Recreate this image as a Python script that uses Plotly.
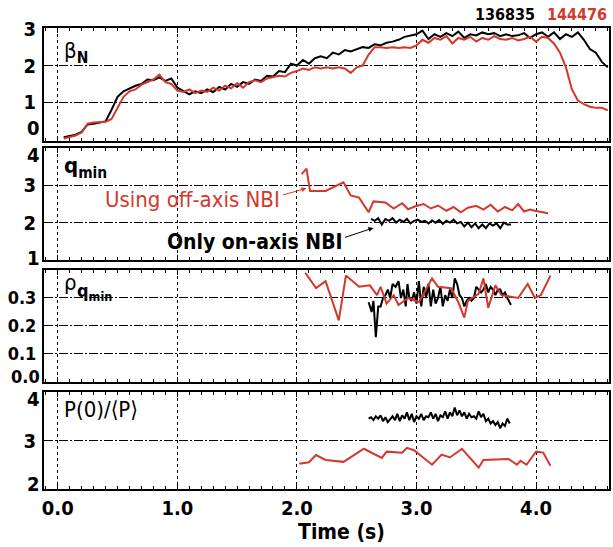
import plotly.graph_objects as go
from plotly.subplots import make_subplots

RED = "#d2382b"
FONT = "DejaVu Sans Condensed, Liberation Sans Narrow, Arial Narrow, sans-serif"

# beta_N, shots 136835 (black) and 144476 (red)
t_beta = [0.05, 0.10, 0.15, 0.20, 0.25, 0.30, 0.35, 0.40, 0.45, 0.50, 0.55, 0.60, 0.65, 0.70, 0.75,
          0.80, 0.85, 0.90, 0.95, 1.00, 1.05, 1.10, 1.15, 1.20, 1.25, 1.30, 1.35, 1.40, 1.45, 1.50,
          1.55, 1.60, 1.65, 1.70, 1.75, 1.80, 1.85, 1.90, 1.95, 2.00, 2.05, 2.10, 2.15, 2.20, 2.25,
          2.30, 2.35, 2.40, 2.45, 2.50, 2.55, 2.60, 2.65, 2.70, 2.75, 2.80, 2.85, 2.90, 2.95, 3.00,
          3.05, 3.10, 3.15, 3.20, 3.25, 3.30, 3.35, 3.40, 3.45, 3.50, 3.55, 3.60, 3.65, 3.70, 3.75,
          3.80, 3.85, 3.90, 3.95, 4.00, 4.05, 4.10, 4.15, 4.20, 4.25, 4.30, 4.35, 4.40, 4.45, 4.50,
          4.55, 4.60]
beta_136835 = [0.05, 0.08, 0.12, 0.20, 0.40, 0.42, 0.45, 0.48, 0.80, 1.15, 1.30, 1.38, 1.45, 1.50, 1.62,
               1.60, 1.68, 1.58, 1.65, 1.40, 1.30, 1.22, 1.30, 1.25, 1.35, 1.28, 1.42, 1.35, 1.50, 1.42,
               1.55, 1.50, 1.62, 1.58, 1.72, 1.70, 1.85, 1.82, 2.05, 2.00, 2.15, 2.05, 2.20, 2.25, 2.20,
               2.35, 2.30, 2.42, 2.38, 2.45, 2.50, 2.48, 2.58, 2.55, 2.62, 2.65, 2.70, 2.78, 2.82, 2.85,
               2.95, 2.72, 2.85, 2.78, 2.88, 2.80, 2.92, 2.75, 2.85, 2.82, 2.90, 2.85, 2.88, 2.80, 2.85,
               2.80, 2.82, 2.88, 2.75, 2.85, 2.90, 2.78, 2.90, 2.72, 2.85, 2.78, 2.90, 2.70, 2.45, 2.35,
               2.10, 1.95]
beta_144476 = [0.02, 0.05, 0.10, 0.18, 0.42, 0.45, 0.45, 0.47, 0.55, 0.85, 1.15, 1.30, 1.35, 1.48, 1.55,
               1.62, 1.75, 1.55, 1.50, 1.32, 1.28, 1.35, 1.25, 1.32, 1.28, 1.40, 1.32, 1.45, 1.38, 1.52,
               1.40, 1.55, 1.60, 1.55, 1.65, 1.68, 1.72, 1.70, 1.80, 1.85, 1.92, 1.88, 1.95, 1.92, 1.95,
               1.92, 1.95, 1.92, 1.80, 1.95, 2.00, 2.30, 2.50, 2.50, 2.48, 2.50, 2.48, 2.50, 2.48, 2.55,
               2.70, 2.62, 2.75, 2.70, 2.80, 2.60, 2.75, 2.70, 2.78, 2.65, 2.75, 2.70, 2.80, 2.72, 2.70,
               2.75, 2.68, 2.72, 2.78, 2.65, 2.78, 2.75, 2.60, 2.35, 1.95, 1.35, 1.05, 0.95, 0.88, 0.85,
               0.85, 0.78]

# q_min
t_q_144476 = [2.04, 2.08, 2.11, 2.24, 2.39, 2.45, 2.52, 2.60, 2.64, 2.74, 2.81, 2.88, 2.93, 2.99, 3.06,
              3.12, 3.18, 3.25, 3.31, 3.37, 3.43, 3.50, 3.56, 3.62, 3.68, 3.74, 3.80, 3.85, 3.90, 3.95,
              3.99, 4.05, 4.10]
q_144476 = [3.30, 3.45, 2.85, 2.85, 3.08, 2.73, 2.67, 2.28, 2.57, 2.54, 2.38, 2.52, 2.36, 2.44, 2.50,
            2.38, 2.46, 2.32, 2.42, 2.28, 2.40, 2.45, 2.35, 2.48, 2.30, 2.42, 2.33, 2.50, 2.30, 2.35,
            2.32, 2.28, 2.25]
t_q_136835 = [2.62, 2.65, 2.68, 2.71, 2.74, 2.77, 2.80, 2.83, 2.86, 2.89, 2.92, 2.95, 2.98, 3.01, 3.04,
              3.07, 3.10, 3.13, 3.16, 3.19, 3.22, 3.25, 3.28, 3.31, 3.34, 3.37, 3.40, 3.43, 3.46, 3.49,
              3.52, 3.55, 3.58, 3.61, 3.64, 3.67, 3.70, 3.73, 3.76, 3.79]
q_136835 = [2.10, 2.05, 2.12, 1.95, 2.10, 2.05, 2.12, 2.00, 2.08, 2.02, 2.10, 1.98, 2.05, 2.08, 2.02,
            2.05, 1.98, 2.06, 2.00, 2.07, 1.97, 2.05, 2.00, 2.08, 1.98, 2.02, 1.90, 2.00, 1.88, 1.98,
            1.85, 1.95, 1.85, 1.98, 1.92, 1.98, 1.85, 2.00, 1.95, 1.95]

# rho at q_min
t_rho_144476 = [2.07, 2.16, 2.24, 2.35, 2.41, 2.52, 2.61, 2.67, 2.70, 2.75, 2.81, 2.85, 2.93, 3.02, 3.13,
                3.18, 3.29, 3.35, 3.40, 3.43, 3.52, 3.56, 3.60, 3.66, 3.71, 3.79, 3.85, 3.93, 3.99, 4.04,
                4.12]
rho_144476 = [0.39, 0.335, 0.36, 0.22, 0.38, 0.34, 0.345, 0.31, 0.34, 0.28, 0.31, 0.275, 0.30, 0.285, 0.37,
              0.34, 0.335, 0.285, 0.23, 0.29, 0.315, 0.37, 0.265, 0.345, 0.31, 0.305, 0.30, 0.35, 0.30, 0.31,
              0.38]
t_rho_136835 = [2.60, 2.625, 2.64, 2.66, 2.68, 2.70, 2.72, 2.74, 2.76, 2.78, 2.80, 2.825, 2.85, 2.87, 2.89,
                2.91, 2.925, 2.94, 2.96, 2.98, 3.00, 3.02, 3.04, 3.06, 3.08, 3.10, 3.12, 3.14, 3.16, 3.18,
                3.20, 3.22, 3.24, 3.26, 3.28, 3.30, 3.32, 3.34, 3.36, 3.38, 3.40, 3.42, 3.44, 3.46, 3.48,
                3.50, 3.52, 3.54, 3.56, 3.58, 3.60, 3.62, 3.64, 3.66, 3.68, 3.70, 3.72, 3.74, 3.76, 3.79]
rho_136835 = [0.285, 0.25, 0.29, 0.16, 0.27, 0.27, 0.30, 0.31, 0.33, 0.30, 0.35, 0.34, 0.36, 0.30, 0.33,
              0.27, 0.35, 0.30, 0.29, 0.32, 0.28, 0.36, 0.27, 0.34, 0.30, 0.35, 0.27, 0.33, 0.28, 0.30,
              0.34, 0.27, 0.31, 0.29, 0.33, 0.30, 0.37, 0.35, 0.31, 0.30, 0.27, 0.29, 0.30, 0.29, 0.30,
              0.34, 0.33, 0.32, 0.33, 0.35, 0.32, 0.34, 0.33, 0.31, 0.33, 0.33, 0.31, 0.32, 0.30, 0.275]

# pressure peaking P(0)/<P>
t_p_144476 = [2.02, 2.10, 2.16, 2.24, 2.39, 2.56, 2.71, 2.75, 2.88, 2.92, 2.98, 3.06, 3.13, 3.21, 3.28,
              3.38, 3.46, 3.52, 3.56, 3.77, 3.84, 3.87, 3.92, 4.00, 4.06, 4.12]
p_144476 = [2.52, 2.55, 2.70, 2.60, 2.56, 2.83, 2.64, 2.77, 2.75, 2.85, 2.80, 2.64, 2.50, 2.71, 2.65,
            2.83, 2.62, 2.44, 2.60, 2.62, 2.50, 2.58, 2.50, 2.77, 2.75, 2.48]
t_p_136835 = [2.60, 2.62, 2.64, 2.66, 2.68, 2.70, 2.72, 2.74, 2.76, 2.78, 2.80, 2.82, 2.84, 2.86, 2.88,
              2.90, 2.92, 2.94, 2.96, 2.98, 3.00, 3.02, 3.04, 3.06, 3.08, 3.10, 3.12, 3.14, 3.16, 3.18,
              3.20, 3.22, 3.24, 3.26, 3.28, 3.30, 3.32, 3.34, 3.36, 3.38, 3.40, 3.42, 3.44, 3.46, 3.48,
              3.50, 3.52, 3.54, 3.56, 3.58, 3.60, 3.62, 3.64, 3.66, 3.68, 3.70, 3.72, 3.74, 3.76, 3.78]
p_136835 = [3.45, 3.48, 3.42, 3.50, 3.45, 3.52, 3.40, 3.48, 3.38, 3.45, 3.50, 3.42, 3.55, 3.40, 3.52,
            3.45, 3.58, 3.42, 3.55, 3.38, 3.50, 3.45, 3.55, 3.42, 3.50, 3.48, 3.58, 3.45, 3.55, 3.40,
            3.52, 3.48, 3.60, 3.45, 3.58, 3.50, 3.68, 3.52, 3.62, 3.50, 3.58, 3.45, 3.55, 3.48, 3.50,
            3.45, 3.60, 3.48, 3.55, 3.40, 3.45, 3.35, 3.40, 3.32, 3.38, 3.25, 3.35, 3.30, 3.45, 3.35]

x_ticks = [0.0, 1.0, 2.0, 3.0, 4.0]
x_ticktext = ["0.0", "1.0", "2.0", "3.0", "4.0"]

# y ticks per panel: (values, labels, range)
y_beta = ([0, 1, 2, 3], ["0", "1", "2", "3"], [-0.05, 3.02])
y_q = ([1, 2, 3, 4], ["1", "2", "3", "4"], [1, 4])
y_rho = ([0.0, 0.1, 0.2, 0.3], ["0.0", "0.1", "0.2", "0.3"], [0, 0.4])
y_p = ([2, 3, 4], ["2", "3", "4"], [2, 4])

fig = make_subplots(rows=4, cols=1, shared_xaxes=True, vertical_spacing=0.02)

panels = [
    (t_beta, beta_136835, t_beta, beta_144476),
    (t_q_136835, q_136835, t_q_144476, q_144476),
    (t_rho_136835, rho_136835, t_rho_144476, rho_144476),
    (t_p_136835, p_136835, t_p_144476, p_144476),
]
for i, (tb, yb, tr, yr) in enumerate(panels, start=1):
    fig.add_trace(go.Scatter(x=tb, y=yb, mode="lines", line=dict(color="black", width=2)), row=i, col=1)
    fig.add_trace(go.Scatter(x=tr, y=yr, mode="lines", line=dict(color=RED, width=2)), row=i, col=1)

fig.update_xaxes(
    range=[-0.115, 4.61], tickvals=x_ticks, ticktext=x_ticktext,
    showline=True, linecolor="black", linewidth=2, mirror="allticks",
    ticks="inside", ticklen=5, tickcolor="black",
    minor=dict(dtick=0.1, ticks="inside", ticklen=3, tickcolor="black"),
    showgrid=True, gridcolor="black", gridwidth=1, griddash="dot",
    zeroline=False, tickfont=dict(family=FONT, size=20, color="black", weight="bold"),
)

yfont = dict(family=FONT, size=20, color="black", weight="bold")
rhofont = dict(family=FONT, size=18, color="black", weight="bold")
fig.update_yaxes(
    showline=True, linecolor="black", linewidth=2, mirror=True,
    ticks="", showgrid=True, gridcolor="black", gridwidth=1, griddash="9px,2px,2px,2px",
    zeroline=False, tickfont=yfont, ticklabelstandoff=2,
)

# inner ticks labelled by the axis; edge labels nudged inward like the original
edge_shift = {1: [(0, 11)], 2: [(0, 2), (-1, -7)], 3: [(0, 5)], 4: [(0, 5), (-1, -7)]}
for row, (vals, texts, rng) in enumerate([y_beta, y_q, y_rho, y_p], start=1):
    f = rhofont if row == 3 else yfont
    edge_idx = [k % len(vals) for k, _ in edge_shift[row]]
    inner = [j for j in range(len(vals)) if j not in edge_idx]
    fig.update_yaxes(range=rng, tickvals=[vals[j] for j in inner], ticktext=[texts[j] for j in inner],
                     tickfont=f, row=row, col=1)
    for k, dy in edge_shift[row]:
        j = k % len(vals)
        fig.add_annotation(text=texts[j], xref=f"x{'' if row == 1 else row} domain",
                           yref=f"y{'' if row == 1 else row}", x=0, y=vals[j], xanchor="right",
                           yanchor="middle", xshift=-2, yshift=dy, showarrow=False, font=f)

fig.update_layout(
    width=613, height=547,
    margin=dict(l=44, r=2, t=28, b=58),
    paper_bgcolor="white", plot_bgcolor="white",
    showlegend=False,
    yaxis=dict(domain=[0.7549, 1.0]),
    yaxis2=dict(domain=[0.4967, 0.7397]),
    yaxis3=dict(domain=[0.2321, 0.4751]),
    yaxis4=dict(domain=[0.0, 0.2104]),
)

lab = dict(family=FONT, size=22, color="black")
fig.add_annotation(text="β<sub><b>N</b></sub>", xref="x domain", yref="y domain", x=0.032, y=0.93,
                   xanchor="left", yanchor="top", showarrow=False, font=lab)
fig.add_annotation(text="<b>q<sub>min</sub></b>", xref="x2 domain", yref="y2 domain", x=0.032, y=0.97,
                   xanchor="left", yanchor="top", showarrow=False, font=lab)
fig.add_annotation(text="ρ", xref="x3 domain", yref="y3 domain", x=0.032, y=1.02,
                   xanchor="left", yanchor="top", showarrow=False, font=lab)
fig.add_annotation(text="<b>q<sub>min</sub></b>", xref="x3 domain", yref="y3 domain", x=0.055, y=0.93,
                   xanchor="left", yanchor="top", showarrow=False, font=dict(family=FONT, size=18, color="black"))
fig.add_annotation(text="P(0)/⟨P⟩", xref="x4 domain", yref="y4 domain", x=0.032, y=0.97,
                   xanchor="left", yanchor="top", showarrow=False, font=lab)

fig.add_annotation(text="Time (s)", xref="paper", yref="paper", x=0.527, y=-0.063, xanchor="center",
                   yanchor="top", showarrow=False, font=dict(family=FONT, size=21, color="black", weight="bold"))

fig.add_annotation(text="136835", xref="paper", yref="paper", x=0.873, y=1.005, xanchor="right",
                   yanchor="bottom", showarrow=False, font=dict(family=FONT, size=16, color="black", weight="bold"))
fig.add_annotation(text="144476", xref="paper", yref="paper", x=1.0, y=1.005, xanchor="right",
                   yanchor="bottom", showarrow=False, font=dict(family=FONT, size=16, color=RED, weight="bold"))

fig.add_annotation(text="Using off-axis NBI", xref="x2", yref="y2", x=1.125, y=2.62, showarrow=False,
                   font=dict(family=FONT, size=22, color=RED))
fig.add_annotation(text="", xref="x2", yref="y2", x=2.08, y=2.92, ax=-25, ay=7, showarrow=True,
                   arrowhead=2, arrowsize=1, arrowwidth=1, arrowcolor=RED)
fig.add_annotation(text="<b>Only on-axis NBI</b>", xref="x2", yref="y2", x=1.65, y=1.49, showarrow=False,
                   font=dict(family=FONT, size=21, color="black"))
fig.add_annotation(text="", xref="x2", yref="y2", x=2.64, y=1.86, ax=-30, ay=10, showarrow=True,
                   arrowhead=2, arrowsize=1, arrowwidth=1, arrowcolor="black")

fig.write_html("out.html", config={"displayModeBar": False},
               post_script="document.body.style.margin='0';")
